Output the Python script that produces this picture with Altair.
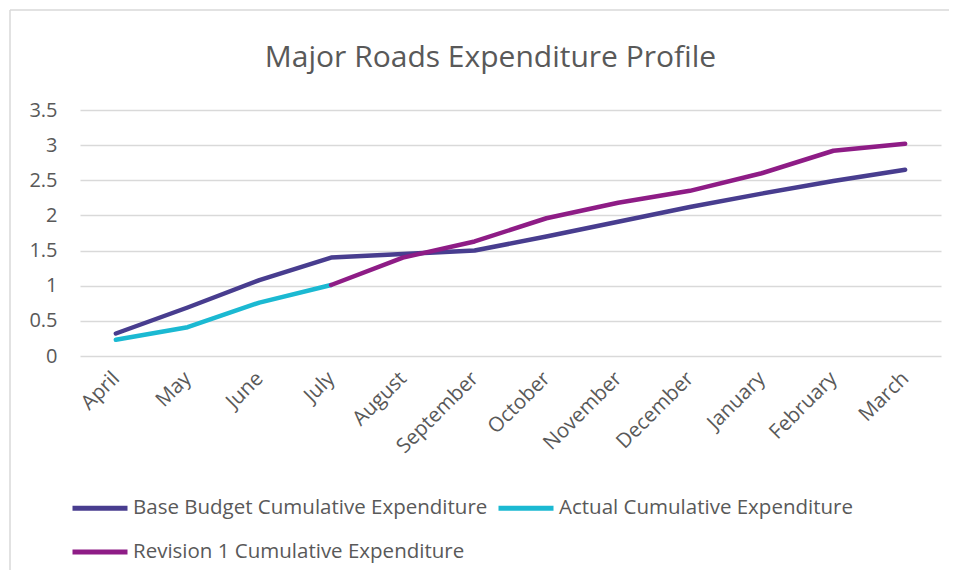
import altair as alt
import pandas as pd

months = ["April", "May", "June", "July", "August", "September", "October",
          "November", "December", "January", "February", "March"]
base_budget = [0.32, 0.69, 1.08, 1.40, 1.45, 1.50, 1.70, 1.91, 2.12, 2.31, 2.49, 2.65]
actual_months = ["April", "May", "June", "July"]
actual = [0.23, 0.41, 0.76, 1.01]
revision_months = ["July", "August", "September", "October", "November",
                   "December", "January", "February", "March"]
revision = [1.01, 1.40, 1.63, 1.96, 2.18, 2.35, 2.60, 2.92, 3.02]

series_names = ["Base Budget Cumulative Expenditure",
                "Actual Cumulative Expenditure",
                "Revision 1 Cumulative Expenditure"]
series_colors = ["#483D8F", "#1BB9D2", "#8E1C86"]
# legend grid fills column by column, so list Revision before Actual
legend_order = [series_names[0], series_names[2], series_names[1]]
legend_colors = [series_colors[0], series_colors[2], series_colors[1]]

rows = []
for m, v in zip(months, base_budget):
    rows.append({"month": m, "value": v, "series": series_names[0]})
for m, v in zip(actual_months, actual):
    rows.append({"month": m, "value": v, "series": series_names[1]})
for m, v in zip(revision_months, revision):
    rows.append({"month": m, "value": v, "series": series_names[2]})
df = pd.DataFrame(rows)

FONT = "Open Sans"
GRAY = "#595959"

lines = alt.Chart(df).mark_line(strokeWidth=4.5, strokeCap="round", strokeJoin="round").encode(
    x=alt.X("month:N", sort=months,
            scale=alt.Scale(type="point", padding=0.5),
            axis=alt.Axis(title=None, labelAngle=-45, labelAlign="right",
                          labelBaseline="middle", labelPadding=19, ticks=False,
                          domain=False, grid=False, labelFontSize=20.5,
                          labelColor=GRAY, labelFont=FONT)),
    y=alt.Y("value:Q", scale=alt.Scale(domain=[0, 3.5], nice=False),
            axis=alt.Axis(title=None, values=[0, 0.5, 1, 1.5, 2, 2.5, 3, 3.5],
                          format="~g", ticks=False, domain=False,
                          gridColor="#D9D9D9", gridWidth=1.5,
                          labelPadding=23, labelFontSize=20,
                          labelColor=GRAY, labelFont=FONT)),
    color=alt.Color("series:N", sort=legend_order,
                    scale=alt.Scale(domain=legend_order, range=legend_colors),
                    legend=alt.Legend(title=None, orient="none", legendX=-10, legendY=368,
                                      columns=2, columnPadding=0, rowPadding=3,
                                      symbolType="stroke", symbolSize=3025,
                                      symbolStrokeWidth=5, labelFontSize=20.5,
                                      labelColor=GRAY, labelFont=FONT,
                                      labelOffset=3, labelLimit=500)),
)

border = alt.Chart(pd.DataFrame({"k": [0]})).mark_rule(color="#D9D9D9", strokeWidth=1.5).encode(
    x=alt.value(-70), y=alt.value(-100), y2=alt.value(470))
border_top = alt.Chart(pd.DataFrame({"k": [0]})).mark_rule(color="#D9D9D9", strokeWidth=1.5).encode(
    x=alt.value(-70), x2=alt.value(900), y=alt.value(-100))

chart = alt.layer(border, border_top, lines).properties(
    width=861, height=246,
    title=alt.TitleParams("Major Roads Expenditure Profile", fontSize=30,
                          font=FONT, fontWeight="normal", color=GRAY,
                          anchor="middle", dx=-20, offset=-88,
                          baseline="alphabetic"),
    autosize=alt.AutoSizeParams(type="none"),
    padding={"left": 72, "top": 102, "right": 8, "bottom": 214},
).configure_view(stroke=None)

chart.save("out.html", embed_options={"renderer": "svg", "actions": False})
